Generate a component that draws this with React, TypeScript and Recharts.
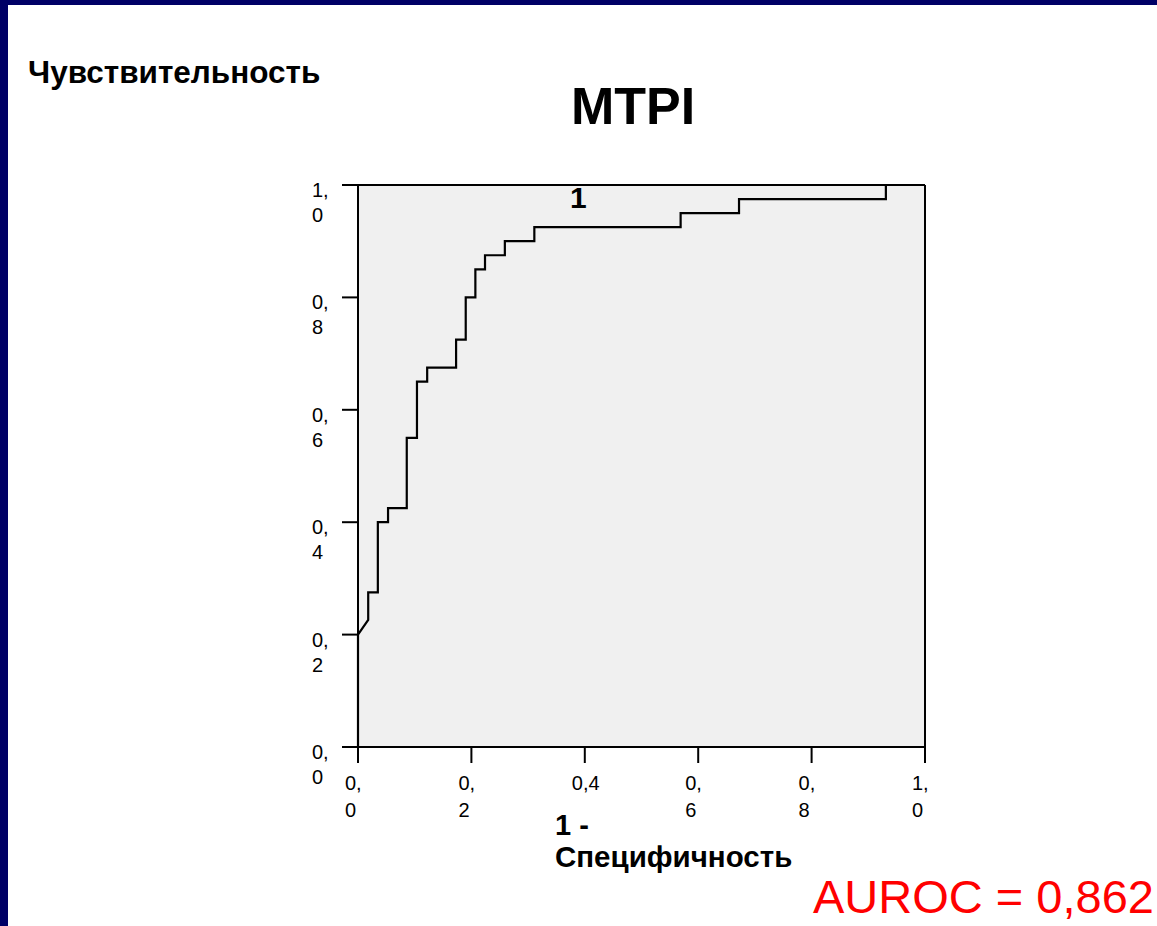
import React from "react"
import {
  LineChart,
  Line,
  XAxis,
  YAxis,
  CartesianGrid,
  ReferenceLine,
} from "recharts"

// ROC curve steps (1 - specificity, sensitivity)
const fpr = [
  0, 0, 0.018, 0.018, 0.035, 0.035, 0.053, 0.053, 0.086, 0.086, 0.104, 0.104,
  0.122, 0.122, 0.173, 0.173, 0.19, 0.19, 0.207, 0.207, 0.224, 0.224, 0.259,
  0.259, 0.311, 0.311, 0.569, 0.569, 0.672, 0.672, 0.931, 0.931, 1,
]
const tpr = [
  0, 0.2, 0.226, 0.275, 0.275, 0.4, 0.4, 0.425, 0.425, 0.55, 0.55, 0.65, 0.65,
  0.675, 0.675, 0.725, 0.725, 0.8, 0.8, 0.85, 0.85, 0.875, 0.875, 0.9, 0.9,
  0.925, 0.925, 0.95, 0.95, 0.975, 0.975, 1, 1,
]

const tickValues = [0, 0.2, 0.4, 0.6, 0.8, 1]
const xTickLabels = [["0,", "0"], ["0,", "2"], ["0,4"], ["0,", "6"], ["0,", "8"], ["1,", "0"]]
const yTickLabels = [["0,", "0"], ["0,", "2"], ["0,", "4"], ["0,", "6"], ["0,", "8"], ["1,", "0"]]

const data = fpr.map((x, i) => ({ fpr: x, tpr: tpr[i] }))

const FONT = "Arial, 'Liberation Sans', sans-serif"
const NAVY = "#000066"

function XTick(props: any) {
  const { x, y, index } = props
  const lines = xTickLabels[index] || []
  return (
    <g>
      {lines.map((t, i) => (
        <text key={i} x={x - 13} y={y + 25 + i * 27} fontSize={20} fontFamily={FONT} fill="#000" textAnchor="start">
          {t}
        </text>
      ))}
    </g>
  )
}

function YTick(props: any) {
  const { x, y, index } = props
  const lines = yTickLabels[index] || []
  return (
    <g>
      {lines.map((t, i) => (
        <text key={i} x={x - 28} y={y + 12 + i * 25} fontSize={20} fontFamily={FONT} fill="#000" textAnchor="start">
          {t}
        </text>
      ))}
    </g>
  )
}

export default function App() {
  return (
    <div
      style={{
        position: "absolute",
        left: 0,
        top: 0,
        width: 1157,
        height: 926,
        background: "#fff",
        overflow: "hidden",
      }}
    >
      <div style={{ position: "absolute", left: 0, top: 0, width: 1157, height: 5, background: NAVY }} />
      <div style={{ position: "absolute", left: 0, top: 0, width: 8, height: 926, background: NAVY }} />
      <div style={{ position: "absolute", left: 0, top: 0 }}>
        <LineChart
          width={1157}
          height={926}
          data={data}
          margin={{ top: 185, right: 232, bottom: 149, left: 298 }}
        >
          <CartesianGrid fill="#f0f0f0" horizontal={false} vertical={false} />
          <XAxis
            dataKey="fpr"
            type="number"
            domain={[0, 1]}
            ticks={tickValues}
            height={30}
            tickSize={16}
            axisLine={{ stroke: "#000", strokeWidth: 2 }}
            tickLine={{ stroke: "#000", strokeWidth: 2 }}
            tick={<XTick />}
            interval={0}
          />
          <YAxis
            dataKey="tpr"
            type="number"
            domain={[0, 1]}
            ticks={tickValues}
            width={60}
            tickSize={16}
            axisLine={{ stroke: "#000", strokeWidth: 2 }}
            tickLine={{ stroke: "#000", strokeWidth: 2 }}
            tick={<YTick />}
            interval={0}
          />
          <ReferenceLine y={1} stroke="#000" strokeWidth={2} />
          <ReferenceLine x={1} stroke="#000" strokeWidth={2} />
          <Line
            type="linear"
            dataKey="tpr"
            stroke="#000"
            strokeWidth={2.2}
            dot={false}
            isAnimationActive={false}
          />
          <text x={633} y={124} textAnchor="middle" fontSize={52} fontWeight="bold" fontFamily={FONT} fill="#000">
            MTPI
          </text>
          <text x={570} y={208} fontSize={30} fontWeight="bold" fontFamily={FONT} fill="#000">
            1
          </text>
          <text x={28} y={83} fontSize={31.5} fontWeight="bold" fontFamily={FONT} fill="#000">
            Чувствительность
          </text>
          <text x={555} y={835} fontSize={29} fontWeight="bold" fontFamily={FONT} fill="#000">
            1 -
          </text>
          <text x={555} y={867} fontSize={29.5} fontWeight="bold" fontFamily={FONT} fill="#000">
            Специфичность
          </text>
          <text x={813} y={913} fontSize={47} fontFamily={FONT} fill="#ff0000">
            AUROC = 0,862
          </text>
        </LineChart>
      </div>
    </div>
  )
}
